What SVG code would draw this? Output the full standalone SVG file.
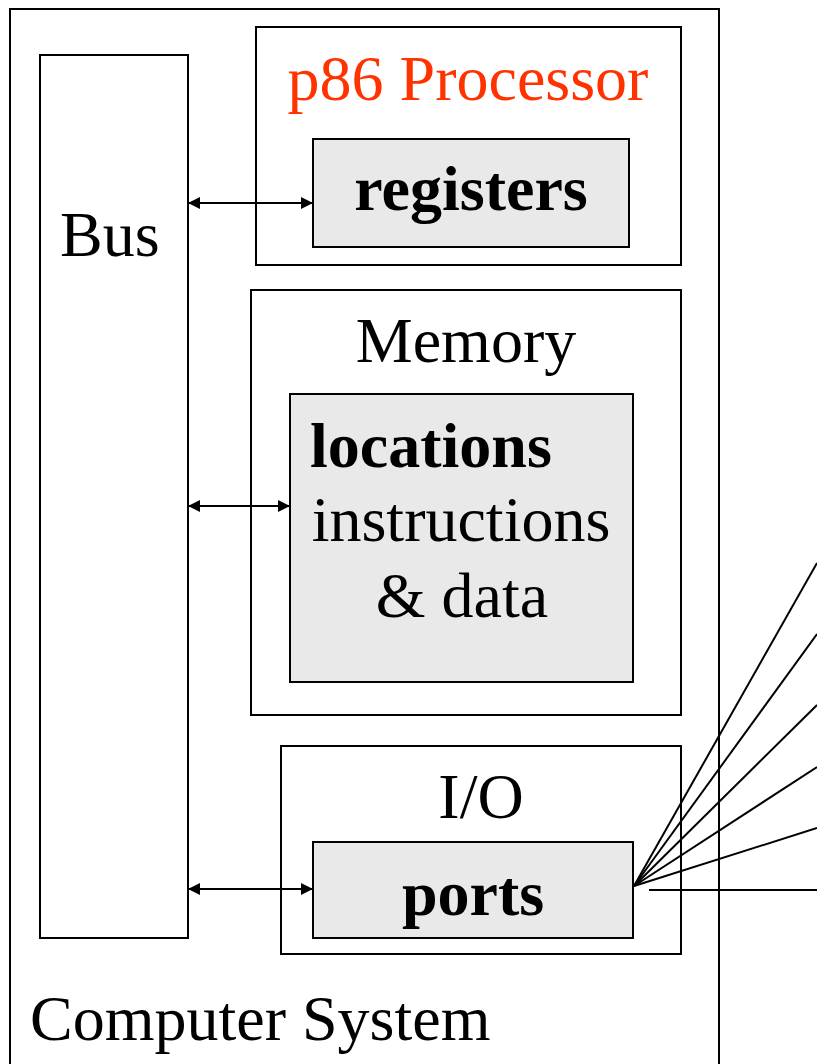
<svg xmlns="http://www.w3.org/2000/svg" width="817" height="1064" viewBox="0 0 817 1064">
<style>
.box{fill:#ffffff;stroke:#000;stroke-width:2}
.inner{fill:#e9e9e9;stroke:#000;stroke-width:2}
.t{font-family:"Liberation Serif","Times New Roman",serif;font-size:64px;fill:#000}
.b{font-weight:bold}
.red{fill:#ff3300}
.c{stroke:#000;stroke-width:2;fill:none}
</style>
<defs>
<marker id="ah" viewBox="0 0 10 10" refX="10" refY="5" markerWidth="15" markerHeight="12" markerUnits="userSpaceOnUse" orient="auto-start-reverse">
<path d="M0,0 L10,5 L0,10 z" fill="#000"/>
</marker>
</defs>
<rect width="817" height="1064" fill="#fff"/>
<g id="computer-system">
<path class="c" d="M10,1064 L10,9 L719,9 L719,1064"/>
<text class="t" x="30" y="1040">Computer System</text>
</g>
<g id="bus">
<rect class="box" x="40" y="55" width="148" height="883"/>
<text class="t" x="60" y="256">Bus</text>
</g>
<g id="processor">
<rect class="box" x="256" y="27" width="425" height="238"/>
<text class="t red" x="468" y="100" text-anchor="middle">p86 Processor</text>
</g>
<g id="registers">
<rect class="inner" x="313" y="139" width="316" height="108"/>
<text class="t b" x="471" y="210" text-anchor="middle">registers</text>
</g>
<g id="memory">
<rect class="box" x="251" y="290" width="430" height="425"/>
<text class="t" x="466" y="362" text-anchor="middle">Memory</text>
</g>
<g id="locations">
<rect class="inner" x="290" y="394" width="343" height="288"/>
<text class="t b" x="310" y="467">locations</text>
<text class="t" x="461" y="541" text-anchor="middle">instructions</text>
<text class="t" x="462" y="617" text-anchor="middle">&amp; data</text>
</g>
<g id="io">
<rect class="box" x="281" y="746" width="400" height="208"/>
<text class="t" x="481" y="818" text-anchor="middle">I/O</text>
</g>
<g id="ports">
<rect class="inner" x="313" y="842" width="320" height="96"/>
<text class="t b" x="473" y="915" text-anchor="middle">ports</text>
</g>
<g id="connectors">
<line class="c" x1="188" y1="203" x2="313" y2="203" marker-start="url(#ah)" marker-end="url(#ah)"/>
<line class="c" x1="188" y1="506" x2="290" y2="506" marker-start="url(#ah)" marker-end="url(#ah)"/>
<line class="c" x1="188" y1="889" x2="313" y2="889" marker-start="url(#ah)" marker-end="url(#ah)"/>
<line class="c" x1="634" y1="886" x2="817" y2="563"/>
<line class="c" x1="634" y1="886" x2="817" y2="634"/>
<line class="c" x1="634" y1="886" x2="817" y2="705"/>
<line class="c" x1="634" y1="886" x2="817" y2="767"/>
<line class="c" x1="634" y1="886" x2="817" y2="828"/>
<line class="c" x1="649" y1="890" x2="817" y2="890"/>
</g>
</svg>
